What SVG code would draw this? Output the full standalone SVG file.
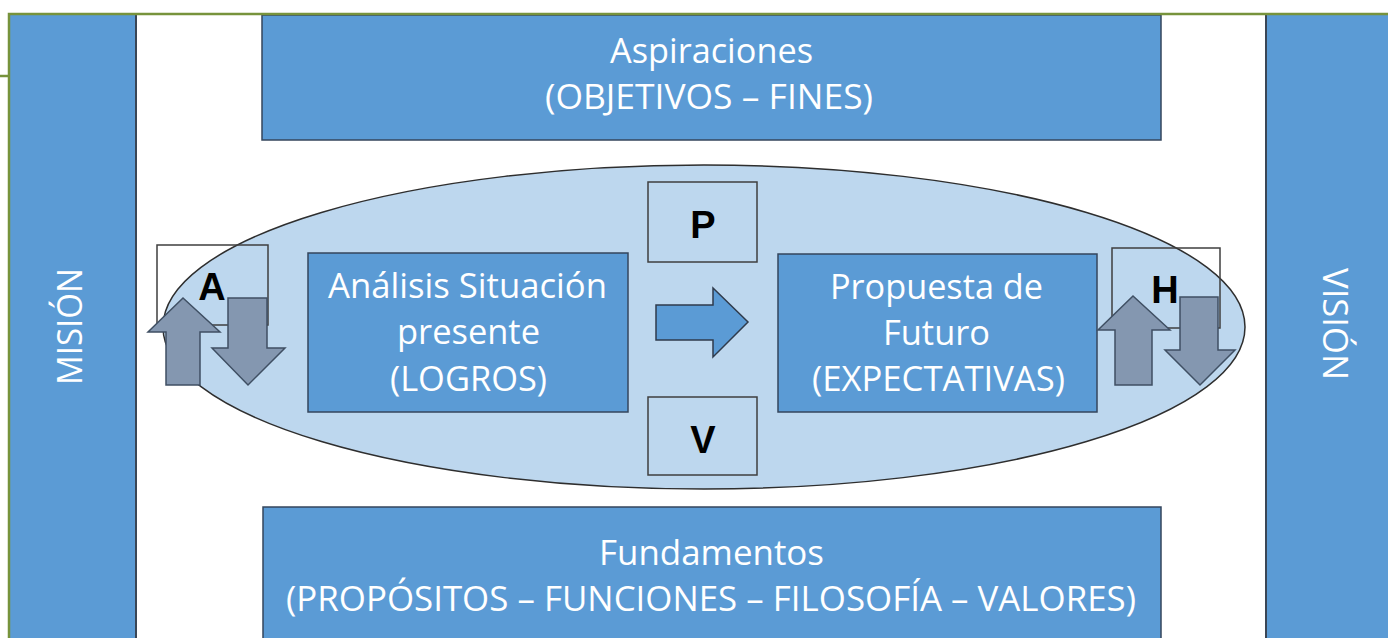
<svg xmlns="http://www.w3.org/2000/svg" width="1388" height="638" viewBox="0 0 1388 638">
<style>
.blue{fill:#5B9BD5;stroke:#34465C;stroke-width:1.5}
.wt{fill:#FFFFFF;font-family:"Open Sans","Liberation Sans",sans-serif;font-size:35px}
.lbl{fill:#000000;font-family:"Liberation Sans",Arial,sans-serif;font-weight:bold;font-size:38px;text-anchor:middle}
.sq{fill:none;stroke:#3F3F3F;stroke-width:1.5}
.arr{fill:#8497B0;stroke:#3F4F63;stroke-width:1.5;stroke-linejoin:miter}
</style>
<rect x="0" y="0" width="1388" height="638" fill="#FFFFFF"/>
<g id="mision">
<rect x="9" y="15" width="127" height="630" fill="#5B9BD5"/>
<line x1="136" y1="15" x2="136" y2="638" stroke="#3A4656" stroke-width="2"/>
<text class="wt" transform="translate(82,385) rotate(-90)" textLength="117" lengthAdjust="spacingAndGlyphs">MISIÓN</text>
</g>
<g id="vision">
<rect x="1266" y="15" width="122" height="630" fill="#5B9BD5"/>
<line x1="1266" y1="15" x2="1266" y2="638" stroke="#3A4656" stroke-width="2"/>
<text class="wt" transform="translate(1323,268) rotate(90)" textLength="112" lengthAdjust="spacingAndGlyphs">VISIÓN</text>
</g>
<g id="aspiraciones">
<rect class="blue" x="262" y="15" width="899" height="125"/>
<text class="wt" x="610" y="63" textLength="203" lengthAdjust="spacingAndGlyphs">Aspiraciones</text>
<text class="wt" x="545" y="109" textLength="328" lengthAdjust="spacingAndGlyphs">(OBJETIVOS – FINES)</text>
</g>
<g id="fundamentos">
<rect class="blue" x="263" y="507" width="898" height="140"/>
<text class="wt" x="599" y="565" textLength="225" lengthAdjust="spacingAndGlyphs">Fundamentos</text>
<text class="wt" x="286" y="611" textLength="850" lengthAdjust="spacingAndGlyphs">(PROPÓSITOS – FUNCIONES – FILOSOFÍA – VALORES)</text>
</g>
<g id="frame">
<polyline points="0,76 9,76" fill="none" stroke="#77933C" stroke-width="2.5"/>
<polyline points="9,638 9,14 1388,14" fill="none" stroke="#77933C" stroke-width="2.5"/>
</g>
<g id="ciclo">
<ellipse cx="704" cy="327" rx="541" ry="162" fill="#BDD7EE" stroke="#2E2E2E" stroke-width="1.5"/>
</g>
<g id="analisis">
<rect class="blue" x="308" y="253" width="320" height="159"/>
<text class="wt" x="328" y="298" textLength="279" lengthAdjust="spacingAndGlyphs">Análisis Situación</text>
<text class="wt" x="397" y="344" textLength="143" lengthAdjust="spacingAndGlyphs">presente</text>
<text class="wt" x="390" y="391" textLength="157" lengthAdjust="spacingAndGlyphs">(LOGROS)</text>
</g>
<g id="propuesta">
<rect class="blue" x="778" y="254" width="319" height="158"/>
<text class="wt" x="830" y="299" textLength="213" lengthAdjust="spacingAndGlyphs">Propuesta de</text>
<text class="wt" x="883" y="345" textLength="107" lengthAdjust="spacingAndGlyphs">Futuro</text>
<text class="wt" x="812" y="391" textLength="253" lengthAdjust="spacingAndGlyphs">(EXPECTATIVAS)</text>
</g>
<g id="P">
<rect class="sq" x="648" y="182" width="109" height="80"/>
<text class="lbl" x="703" y="238">P</text>
</g>
<g id="V">
<rect class="sq" x="648" y="397" width="109" height="78"/>
<text class="lbl" x="703" y="453">V</text>
</g>
<g id="A">
<rect class="sq" x="157" y="245" width="111" height="80"/>
<text class="lbl" x="212" y="300">A</text>
<polygon class="arr" points="183,298 220,332 200,332 200,385 166,385 166,332 148,332"/>
<polygon class="arr" points="228,298 267,298 267,348 285,348 248,385 212,348 228,348"/>
</g>
<g id="H">
<rect class="sq" x="1112" y="248" width="108" height="80"/>
<text class="lbl" x="1165" y="303">H</text>
<polygon class="arr" points="1133,296 1170,330 1152,330 1152,385 1115,385 1115,330 1098,330"/>
<polygon class="arr" points="1180,297 1218,297 1218,350 1235,350 1200,385 1165,350 1180,350"/>
</g>
<g id="connectors">
<polygon points="656,305 713,305 713,288 748,322 713,357 713,340 656,340" fill="#5B9BD5" stroke="#2F3B4C" stroke-width="1.5"/>
</g>
</svg>
